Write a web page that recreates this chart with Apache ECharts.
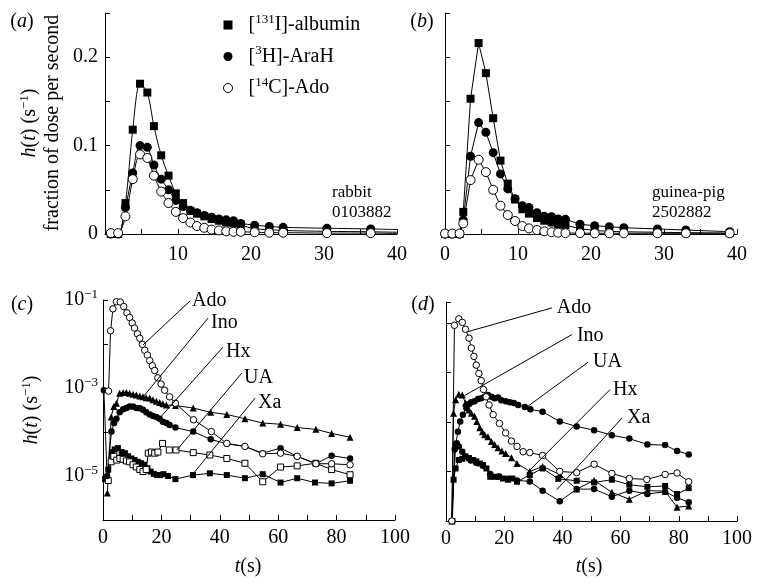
<!DOCTYPE html>
<html><head><meta charset="utf-8">
<script src="https://cdn.jsdelivr.net/npm/echarts@6/dist/echarts.min.js"></script>
<style>html,body{margin:0;padding:0;background:#fff}#c{width:762px;height:585px}</style>
</head><body><div id="c"></div>
<script>
// ---------- panel (a): rabbit 0103882, linear ----------
const tA   = [0.8, 1.8, 2.8, 3.8, 4.8, 5.8, 6.7, 7.7, 8.7, 9.7, 10.7, 11.7, 12.6, 13.6, 14.6, 15.6, 16.6, 17.6, 18.6, 20.5, 22.5, 24.4, 30.4, 36.4];
const albA = [0, 0, 0.035, 0.118, 0.170, 0.160, 0.122, 0.089, 0.066, 0.046, 0.035, 0.026, 0.023, 0.020, 0.017, 0.015, 0.013, 0.012, 0.010, 0.006, 0.005, 0.004, 0.003, 0.0025];
const araA = [0, 0, 0.030, 0.069, 0.100, 0.098, 0.078, 0.062, 0.050, 0.038, 0.031, 0.027, 0.024, 0.021, 0.019, 0.017, 0.016, 0.015, 0.012, 0.010, 0.0085, 0.0075, 0.0065, 0.0057];
const adoA = [0.001, 0.001, 0.020, 0.062, 0.090, 0.086, 0.066, 0.048, 0.035, 0.025, 0.018, 0.013, 0.009, 0.007, 0.005, 0.004, 0.003, 0.0025, 0.0025, 0.002, 0.0015, 0.0015, 0.001, 0.001];
const tEndA = 40;
const endA = [0.002, 0.005, 0.0006]; // albumin, AraH, Ado curve ends

// ---------- panel (b): guinea-pig 2502882, linear ----------
const tB   = [0, 1.0, 2.0, 2.5, 3.5, 4.6, 5.6, 6.6, 7.6, 8.6, 9.6, 10.6, 11.5, 12.6, 13.6, 14.6, 15.5, 16.5, 18.5, 20.5, 22.5, 24.5, 29.1, 33.0, 39.0];
const albB = [0, 0, 0, 0.025, 0.153, 0.216, 0.182, 0.131, 0.083, 0.057, 0.039, 0.028, 0.023, 0.018, 0.015, 0.013, 0.011, 0.010, 0.006, 0.004, 0.003, 0.0025, 0.002, 0.0015, 0.001];
const araB = [0, 0, 0, 0.016, 0.088, 0.126, 0.115, 0.092, 0.068, 0.051, 0.040, 0.032, 0.030, 0.024, 0.020, 0.0195, 0.017, 0.0166, 0.011, 0.0094, 0.0083, 0.0071, 0.0057, 0.0045, 0.0026];
const adoB = [0.0005, 0.0005, 0.0005, 0.012, 0.061, 0.084, 0.070, 0.050, 0.032, 0.0215, 0.0147, 0.009, 0.0064, 0.0045, 0.003, 0.002, 0.0015, 0.001, 0.001, 0.0008, 0.0008, 0.0008, 0.0008, 0.0008, 0.0008];

// ---------- panel (c): rabbit, log scale ----------
const tAdoC = [1.9, 2.6, 3.4, 4.6, 5.9, 7.1, 8.2, 9.1, 10.0, 10.8, 11.8, 12.6, 13.5, 14.3, 15.2, 16.0, 16.9, 17.7, 18.8, 19.9, 21.1, 22.8, 24.8, 31.0, 37.1, 42.4, 48.6, 54.7, 60.8, 66.5, 72.9, 78.3, 84.6];
const adoC  = [8.5e-4, 2.0e-2, 6.3e-2, 9.1e-2, 9.0e-2, 7.1e-2, 5.1e-2, 4.0e-2, 3.0e-2, 2.3e-2, 1.7e-2, 1.35e-2, 9.8e-3, 7.2e-3, 5.6e-3, 4.2e-3, 3.2e-3, 2.5e-3, 1.7e-3, 1.23e-3, 8.9e-4, 6.3e-4, 4.5e-4, 1.9e-4, 1.02e-4, 5.5e-5, 4.7e-5, 3.2e-5, 3.3e-5, 2.8e-5, 1.9e-5, 1.9e-5, 1.8e-5];
const tInoC = [1.5, 2.8, 3.7, 4.6, 5.7, 6.9, 8.0, 9.1, 10.3, 11.4, 12.6, 13.7, 14.8, 16.0, 17.1, 18.3, 19.4, 20.5, 21.7, 24.8, 30.9, 36.9, 42.4, 48.6, 54.7, 60.8, 66.5, 72.9, 78.3, 84.6];
const inoC  = [4.1e-6, 2.2e-4, 3.8e-4, 4.5e-4, 7.6e-4, 7.9e-4, 7.9e-4, 7.6e-4, 7.2e-4, 6.9e-4, 6.6e-4, 6.3e-4, 6.0e-4, 5.9e-4, 5.4e-4, 5.0e-4, 4.7e-4, 4.4e-4, 4.1e-4, 4.0e-4, 3.5e-4, 2.8e-4, 2.5e-4, 2.0e-4, 1.6e-4, 1.5e-4, 1.26e-4, 1.15e-4, 9.3e-5, 7.6e-5];
const tHxC  = [0.3, 1.4, 2.9, 3.8, 4.6, 5.7, 6.9, 8.0, 9.1, 10.3, 11.4, 12.6, 13.7, 14.8, 16.0, 17.1, 18.3, 19.4, 20.5, 21.7, 22.8, 24.8, 30.9, 36.9, 42.4, 48.6, 54.7, 60.8, 66.5, 72.9, 78.3, 84.6];
const hxC   = [8.9e-4, 1.0e-5, 1.02e-4, 1.6e-4, 2.0e-4, 2.8e-4, 3.3e-4, 3.5e-4, 3.8e-4, 3.8e-4, 3.5e-4, 3.45e-4, 3.2e-4, 2.8e-4, 2.5e-4, 2.3e-4, 2.2e-4, 2.0e-4, 1.7e-4, 1.6e-4, 1.45e-4, 1.26e-4, 1.02e-4, 6.8e-5, 5.4e-5, 4.7e-5, 3.3e-5, 4.3e-5, 2.8e-5, 1.9e-5, 2.9e-5, 2.5e-5];
const tUaC  = [1.8, 2.8, 3.7, 4.7, 5.8, 6.9, 8.0, 9.1, 10.3, 11.4, 12.6, 13.7, 14.8, 15.5, 16.6, 17.7, 18.8, 20.4, 22.7, 25.0, 30.9, 36.6, 42.4, 48.6, 54.7, 60.8, 66.5, 72.9, 78.3, 84.6];
const uaC   = [7.9e-6, 2.1e-5, 2.8e-5, 2.3e-5, 2.5e-5, 2.4e-5, 2.2e-5, 2.1e-5, 1.8e-5, 1.6e-5, 1.4e-5, 1.26e-5, 1.4e-5, 3.3e-5, 3.5e-5, 3.3e-5, 3.5e-5, 5.5e-5, 3.9e-5, 3.9e-5, 3.4e-5, 3.0e-5, 2.5e-5, 1.95e-5, 7.4e-6, 1.6e-5, 1.7e-5, 1.95e-5, 1.4e-5, 1.07e-5];
const tXaC  = [0.7, 1.8, 3.0, 4.0, 5.1, 6.4, 7.5, 8.6, 9.7, 10.8, 11.9, 13.0, 14.1, 15.2, 16.3, 17.4, 18.5, 19.6, 20.7, 22.3, 24.8, 30.8, 36.6, 42.4, 48.6, 54.7, 60.8, 66.5, 72.6, 78.3, 84.6];
const xaC   = [8.5e-6, 1.4e-5, 3.5e-5, 4.0e-5, 4.3e-5, 3.5e-5, 3.3e-5, 2.8e-5, 2.5e-5, 2.3e-5, 2.1e-5, 1.95e-5, 1.8e-5, 1.5e-5, 1.26e-5, 1.12e-5, 1.05e-5, 1.05e-5, 1.1e-5, 1.0e-5, 8.5e-6, 1.05e-5, 1.15e-5, 1.05e-5, 8.9e-6, 1.1e-5, 7.1e-6, 8.9e-6, 7.1e-6, 6.8e-6, 7.8e-6];

// ---------- panel (d): guinea-pig, log scale ----------
const tAdoD = [2.0, 2.9, 4.4, 5.6, 6.7, 7.9, 8.7, 9.6, 10.4, 11.3, 12.1, 12.9, 13.8, 14.8, 16.2, 18.4, 20.5, 22.5, 24.4, 26.5, 28.8, 33.2, 39.1, 44.9, 50.9, 57.0, 63.0, 69.0, 75.3, 79.4, 83.4];
const adoD  = [1.0e-6, 8.9e-3, 1.2e-2, 1.02e-2, 7.4e-3, 4.9e-3, 3.1e-3, 2.1e-3, 1.4e-3, 9.5e-4, 6.8e-4, 4.5e-4, 3.2e-4, 2.2e-4, 1.4e-4, 9.3e-5, 6.0e-5, 4.1e-5, 3.2e-5, 2.5e-5, 2.4e-5, 2.1e-5, 1.0e-5, 9.5e-6, 1.4e-5, 9.1e-6, 7.2e-6, 6.9e-6, 8.7e-6, 9.3e-6, 6.2e-6];
const tInoD = [2.0, 2.6, 3.3, 4.4, 5.6, 6.7, 7.9, 8.7, 9.8, 10.6, 11.6, 12.5, 13.3, 14.4, 15.6, 16.7, 17.9, 19.2, 20.5, 22.5, 24.4, 28.8, 33.2, 39.1, 44.9, 50.9, 57.0, 63.0, 69.2, 75.3, 79.4, 83.4];
const inoD  = [1.0e-6, 1.5e-4, 2.8e-4, 3.6e-4, 3.5e-4, 2.4e-4, 1.74e-4, 1.5e-4, 1.3e-4, 1.02e-4, 7.6e-5, 6.3e-5, 5.5e-5, 5.0e-5, 4.0e-5, 3.5e-5, 3.0e-5, 2.6e-5, 2.3e-5, 1.9e-5, 1.45e-5, 1.0e-5, 1.26e-5, 8.7e-6, 4.4e-6, 6.6e-6, 3.8e-6, 2.75e-6, 4.1e-6, 4.0e-6, 1.9e-6, 2.0e-6];
const tUaD  = [2.0, 3.3, 4.1, 4.9, 5.8, 7.0, 7.9, 8.7, 9.8, 11.0, 12.1, 13.3, 14.4, 15.6, 16.7, 17.9, 19.0, 20.5, 21.9, 23.3, 24.8, 27.1, 29.0, 33.2, 39.1, 44.9, 50.9, 57.0, 63.0, 69.2, 75.3, 79.4, 83.4];
const uaD   = [1.0e-6, 3.5e-5, 6.3e-5, 1.02e-4, 1.4e-4, 1.9e-4, 2.3e-4, 2.5e-4, 2.6e-4, 2.9e-4, 3.0e-4, 3.2e-4, 3.5e-4, 3.2e-4, 3.0e-4, 3.1e-4, 2.75e-4, 2.6e-4, 2.5e-4, 2.4e-4, 2.2e-4, 2.0e-4, 1.8e-4, 1.6e-4, 1.02e-4, 8.1e-5, 6.8e-5, 5.4e-5, 4.6e-5, 3.5e-5, 3.4e-5, 2.6e-5, 2.2e-5];
const tHxD  = [2.0, 3.0, 3.7, 4.4, 5.6, 6.7, 8.5, 10.4, 12.7, 15.2, 18.2, 21.3, 24.4, 28.8, 33.2, 39.1, 44.9, 50.9, 57.0, 63.0, 69.2, 75.3, 79.4, 83.4];
const hxD   = [1.0e-6, 2.8e-5, 3.7e-5, 3.2e-5, 2.5e-5, 2.0e-5, 1.66e-5, 1.5e-5, 1.3e-5, 8.9e-6, 7.9e-6, 7.1e-6, 6.6e-6, 6.3e-6, 4.1e-6, 2.5e-6, 4.4e-6, 4.4e-6, 3.1e-6, 4.1e-6, 3.5e-6, 3.9e-6, 2.95e-6, 2.4e-6];
const tXaD  = [2.2, 2.6, 3.3, 4.4, 5.6, 6.7, 7.9, 9.3, 10.4, 11.6, 12.7, 13.9, 15.2, 16.7, 18.2, 19.6, 21.3, 22.8, 24.4, 28.8, 33.2, 38.6, 44.9, 50.9, 57.0, 63.0, 69.2, 75.3, 79.4, 83.4];
const xaD   = [1.0e-6, 6.8e-6, 1.15e-5, 1.7e-5, 1.8e-5, 2.0e-5, 1.86e-5, 1.7e-5, 1.6e-5, 1.45e-5, 1.35e-5, 1.15e-5, 7.8e-6, 7.8e-6, 7.8e-6, 7.2e-6, 6.8e-6, 7.2e-6, 6.2e-6, 8.5e-6, 1.15e-5, 7.1e-6, 6.5e-6, 6.0e-6, 6.8e-6, 5.4e-6, 4.9e-6, 5.1e-6, 3.5e-6, 4.6e-6];

// ---------- annotations (label, t, value) and leader lines (t1, v1, t2, v2) ----------
const labelsC  = [['Ado', 30.5, 9.5e-2], ['Ino', 37.0, 3.0e-2], ['Hx', 42.1, 6.6e-3], ['UA', 48.3, 1.7e-3], ['Xa', 53.1, 4.6e-4]];
const leadersC = [[29.8, 9.5e-2, 13.7, 9.5e-3], [36.0, 3.9e-2, 13.4, 5.9e-4], [41.1, 8.5e-3, 19.5, 2.1e-4], [47.6, 2.2e-3, 25.3, 3.9e-5], [52.1, 5.9e-4, 30.5, 1.05e-5]];
const labelsD  = [['Ado', 38.1, 2.0e-2], ['Ino', 45.0, 5.5e-3], ['UA', 50.5, 1.6e-3], ['Hx', 57.4, 4.5e-4], ['Xa', 62.2, 1.2e-4]];
const leadersD = [[36.4, 2.0e-2, 7.4, 6.6e-3], [43.3, 5.8e-3, 6.4, 3.4e-4], [48.8, 1.6e-3, 27.8, 2.0e-4], [56.4, 4.5e-4, 27.8, 9.3e-6], [60.5, 1.2e-4, 38.1, 4.3e-6]];

const legendNames = ['[131I]-albumin', '[3H]-AraH', '[14C]-Ado'];
const legendRich  = ['[{s|131}I]-albumin', '[{s|3}H]-AraH', '[{s|14}C]-Ado'];

// ---------------------------------------------------------------
const FONT = '"Liberation Serif", "DejaVu Serif", serif';
const FS = 20;
const rich = {
  i: {fontStyle: 'italic', fontFamily: FONT, fontSize: FS, color: '#000', lineHeight: 24},
  b: {fontFamily: FONT, fontSize: FS, color: '#000', lineHeight: 24},
  s: {fontFamily: FONT, fontSize: 13, color: '#000', verticalAlign: 'top', lineHeight: 13}
};

function zip(t, v) { return t.map((x, i) => [x, v[i]]); }
function withEnd(t, v, tEnd, vEnd) {
  const d = zip(t, v);
  d.push({value: [tEnd, vEnd], symbol: 'none'});
  return d;
}
function ser(name, idx, data, sym, open, size, smooth) {
  return {
    type: 'line', name: name, xAxisIndex: idx, yAxisIndex: idx, data: data,
    symbol: sym, symbolSize: size, showSymbol: true, showAllSymbol: true,
    smooth: smooth || false,
    lineStyle: {color: '#000', width: 1},
    itemStyle: open ? {color: '#fff', borderColor: '#000', borderWidth: 1} : {color: '#000', borderColor: '#000', borderWidth: 0},
    emphasis: {disabled: true}, silent: true, animation: false
  };
}
function annot(labels, leaders) {
  return {
    markLine: {
      silent: true, symbol: ['none', 'none'], animation: false,
      lineStyle: {color: '#000', width: 1, type: 'solid'},
      label: {show: false}, emphasis: {disabled: true},
      data: leaders.map(l => [{coord: [l[0], l[1]]}, {coord: [l[2], l[3]]}])
    },
    markPoint: {
      silent: true, symbol: 'circle', symbolSize: 0, animation: false,
      label: {show: true, position: 'right', distance: 0, formatter: '{b}', color: '#000', fontFamily: FONT, fontSize: FS},
      data: labels.map(l => ({name: l[0], coord: [l[1], l[2]]}))
    }
  };
}

const axisCommon = {
  axisLine: {show: true, onZero: false, lineStyle: {color: '#000', width: 1}},
  axisTick: {show: true, inside: true, length: 5, lineStyle: {color: '#000', width: 1}},
  splitLine: {show: false},
  minorTick: {show: false}
};
function xAx(idx, min, max, interval, labelEvery, hideZero, margin) {
  return Object.assign({}, axisCommon, {
    gridIndex: idx, type: 'value', min: min, max: max, interval: interval,
    axisLabel: {
      color: '#000', fontFamily: FONT, fontSize: FS, margin: margin,
      formatter: v => (Math.abs(v % labelEvery) < 1e-9 && !(hideZero && v === 0)) ? String(v) : ''
    }
  });
}
function yLin(idx, showLabels) {
  return Object.assign({}, axisCommon, {
    gridIndex: idx, type: 'value', min: 0, max: 0.25, interval: 0.05,
    axisLabel: {
      show: showLabels, color: '#000', fontFamily: FONT, fontSize: FS, margin: 7,
      formatter: v => {
        if (Math.abs(v * 10 - Math.round(v * 10)) > 1e-6) return '';
        return v === 0 ? '0' : v.toFixed(1);
      }
    }
  });
}
function yLog(idx, max, showLabels) {
  return Object.assign({}, axisCommon, {
    gridIndex: idx, type: 'log', logBase: 10, min: 1e-6, max: max,
    axisLabel: {
      show: showLabels, margin: 5, color: '#000', fontFamily: FONT, fontSize: FS, rich: rich,
      formatter: v => {
        const l = Math.log10(v), e = Math.round(l);
        if (Math.abs(l - e) > 0.01) return '';
        if (e === -1 || e === -3 || e === -5) return '{b|10}{s|\u2212' + (-e) + '}';
        return '';
      }
    }
  });
}

const series = [
  ser(legendNames[0], 0, withEnd(tA, albA, tEndA, endA[0]), 'rect', false, 8, 0.3),
  ser(legendNames[1], 0, withEnd(tA, araA, tEndA, endA[1]), 'circle', false, 9, 0.3),
  ser(legendNames[2], 0, withEnd(tA, adoA, tEndA, endA[2]), 'circle', true, 9, 0.3),
  ser('gp-albumin', 1, zip(tB, albB), 'rect', false, 8),
  ser('gp-AraH', 1, zip(tB, araB), 'circle', false, 9),
  ser('gp-Ado', 1, zip(tB, adoB), 'circle', true, 9),
  Object.assign(ser('c-Xa', 2, zip(tXaC, xaC), 'rect', false, 6), annot(labelsC, leadersC)),
  ser('c-UA', 2, zip(tUaC, uaC), 'rect', true, 6),
  ser('c-Hx', 2, zip(tHxC, hxC), 'circle', false, 6.5),
  ser('c-Ino', 2, zip(tInoC, inoC), 'triangle', false, 7),
  ser('c-Ado', 2, zip(tAdoC, adoC), 'circle', true, 6.5),
  Object.assign(ser('d-Xa', 3, zip(tXaD, xaD), 'rect', false, 6), annot(labelsD, leadersD)),
  ser('d-Hx', 3, zip(tHxD, hxD), 'circle', false, 6.5),
  ser('d-UA', 3, zip(tUaD, uaD), 'circle', false, 6.5),
  ser('d-Ino', 3, zip(tInoD, inoD), 'triangle', false, 7),
  ser('d-Ado', 3, zip(tAdoD, adoD), 'circle', true, 6.5)
];

function gtext(x, y, text, opts) {
  return Object.assign({
    type: 'text', x: x, y: y, silent: true,
    style: Object.assign({text: text, fill: '#000', fontFamily: FONT, fontSize: FS, align: 'center', verticalAlign: 'middle', rich: rich}, (opts && opts.style) || {})
  }, opts && opts.rotation ? {rotation: opts.rotation} : {});
}

const option = {
  backgroundColor: '#fff',
  animation: false,
  textStyle: {fontFamily: FONT},
  grid: [
    {left: 105, top: 13, width: 292, height: 221},
    {left: 445, top: 13, width: 292, height: 221},
    {left: 103, top: 300, width: 292, height: 220},
    {left: 446, top: 302, width: 291, height: 219}
  ],
  xAxis: [
    xAx(0, 0, 40, 5, 10, true, 11),
    xAx(1, 0, 40, 5, 10, false, 11),
    xAx(2, 0, 100, 10, 20, false, 8),
    xAx(3, 0, 100, 10, 20, false, 8)
  ],
  yAxis: [
    yLin(0, true),
    yLin(1, false),
    yLog(2, 1e-1, true),
    yLog(3, 0.0263, false)
  ],
  legend: {
    show: true, orient: 'vertical', left: 218, top: 8, itemWidth: 9, itemHeight: 9, itemGap: 7.5,
    selectedMode: false,
    data: [
      {name: legendNames[0], icon: 'rect', itemStyle: {color: '#000', borderWidth: 0}},
      {name: legendNames[1], icon: 'circle', itemStyle: {color: '#000', borderWidth: 0}},
      {name: legendNames[2], icon: 'circle', itemStyle: {color: '#fff', borderColor: '#000', borderWidth: 1}}
    ],
    formatter: name => legendRich[legendNames.indexOf(name)],
    textStyle: {color: '#000', fontFamily: FONT, fontSize: FS, lineHeight: 24, padding: [0, 0, 0, 11], rich: rich}
  },
  graphic: [
    gtext(22, 22, '({i|a})'),
    gtext(422, 22, '({i|b})'),
    gtext(22, 305, '({i|c})'),
    gtext(423, 305, '({i|d})'),
    gtext(41, 123, '{i|h}({i|t}) (s{s|\u22121})\nfraction of dose per second', {rotation: Math.PI / 2, style: {lineHeight: 22}}),
    gtext(32, 410, '{i|h}({i|t}) (s{s|\u22121})', {rotation: Math.PI / 2}),
    gtext(248, 567, '{i|t}(s)'),
    gtext(589, 567, '{i|t}(s)'),
    gtext(332, 193, 'rabbit', {style: {align: 'left', fontSize: 17}}),
    gtext(332, 213, '0103882', {style: {align: 'left', fontSize: 17}}),
    gtext(652, 193, 'guinea-pig', {style: {align: 'left', fontSize: 17}}),
    gtext(652, 213, '2502882', {style: {align: 'left', fontSize: 17}})
  ],
  series: series
};

const chart = echarts.init(document.getElementById('c'), null, {renderer: 'canvas'});
chart.setOption(option);
</script>
</body></html>
